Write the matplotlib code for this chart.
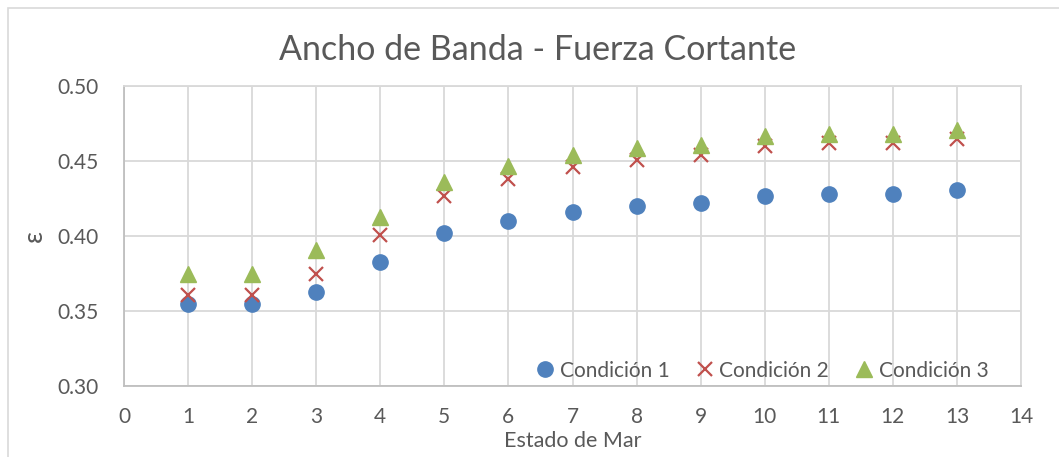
import numpy as np
import matplotlib.pyplot as plt
from matplotlib.patches import Rectangle

# Data
estado = [1, 2, 3, 4, 5, 6, 7, 8, 9, 10, 11, 12, 13]
cond1 = [0.355, 0.355, 0.363, 0.383, 0.402, 0.410, 0.416, 0.420, 0.422, 0.427, 0.428, 0.428, 0.431]
cond2 = [0.361, 0.361, 0.375, 0.401, 0.427, 0.438, 0.446, 0.451, 0.454, 0.460, 0.462, 0.462, 0.465]
cond3 = [0.375, 0.375, 0.391, 0.413, 0.436, 0.447, 0.454, 0.459, 0.461, 0.467, 0.468, 0.468, 0.471]
labels = ['Condición 1', 'Condición 2', 'Condición 3']
x_ticks = list(range(0, 15))
y_ticks = [0.30, 0.35, 0.40, 0.45, 0.50]

plt.rcParams['font.family'] = ['Lato', 'DejaVu Sans']
text_col = '#595959'

fig = plt.figure(figsize=(10.59, 4.57), dpi=100)
W, H = 1059, 457
ax = fig.add_axes([124 / W, 1 - 386 / H, (1021 - 124) / W, (386 - 86) / H])

# chart area border (only top and left are visible in the crop)
fig.patches.append(Rectangle((8 / W, -0.5), 2, 1.5 - 8 / H, transform=fig.transFigure,
                             fill=False, edgecolor='#D9D9D9', linewidth=1.2))

ax.plot(estado, cond1, 'o', color='#4F81BD', markersize=11, label=labels[0], zorder=3)
ax.plot(estado, cond2, 'x', color='#C0504D', markersize=10, markeredgewidth=1.6, label=labels[1], zorder=3)
ax.plot(estado, cond3, '^', color='#9BBB59', markersize=11, label=labels[2], zorder=3)

ax.set_xlim(0, 14)
ax.set_ylim(0.30, 0.50)
ax.set_xticks(x_ticks)
ax.set_yticks(y_ticks)
ax.set_yticklabels([f'{v:.2f}' for v in y_ticks])
ax.grid(True, color='#D9D9D9', linewidth=1.3)
ax.set_axisbelow(True)
for side in ['top', 'right']:
    ax.spines[side].set_color('#D9D9D9')
    ax.spines[side].set_linewidth(1.3)
for side in ['left', 'bottom']:
    ax.spines[side].set_color('#BFBFBF')
    ax.spines[side].set_linewidth(1.3)
ax.tick_params(length=0, labelsize=15, colors=text_col)
ax.tick_params(axis='x', pad=15)
ax.tick_params(axis='y', pad=18)

# title is centred on the chart area, not on the plot area
fig.text(538 / W, 1 - 50 / H, 'Ancho de Banda - Fuerza Cortante', fontsize=24.5,
         color=text_col, ha='center', va='center')
ax.set_xlabel('Estado de Mar', fontsize=15.5, color=text_col, labelpad=3)
ax.set_ylabel('ε', fontsize=19, color=text_col, labelpad=8)

ax.legend(loc='lower right', ncol=3, frameon=False, fontsize=15, labelcolor=text_col,
          handletextpad=0.1, columnspacing=1.1, handlelength=1.2,
          bbox_to_anchor=(0.985, -0.045))

fig.savefig('out.png', dpi=100)
